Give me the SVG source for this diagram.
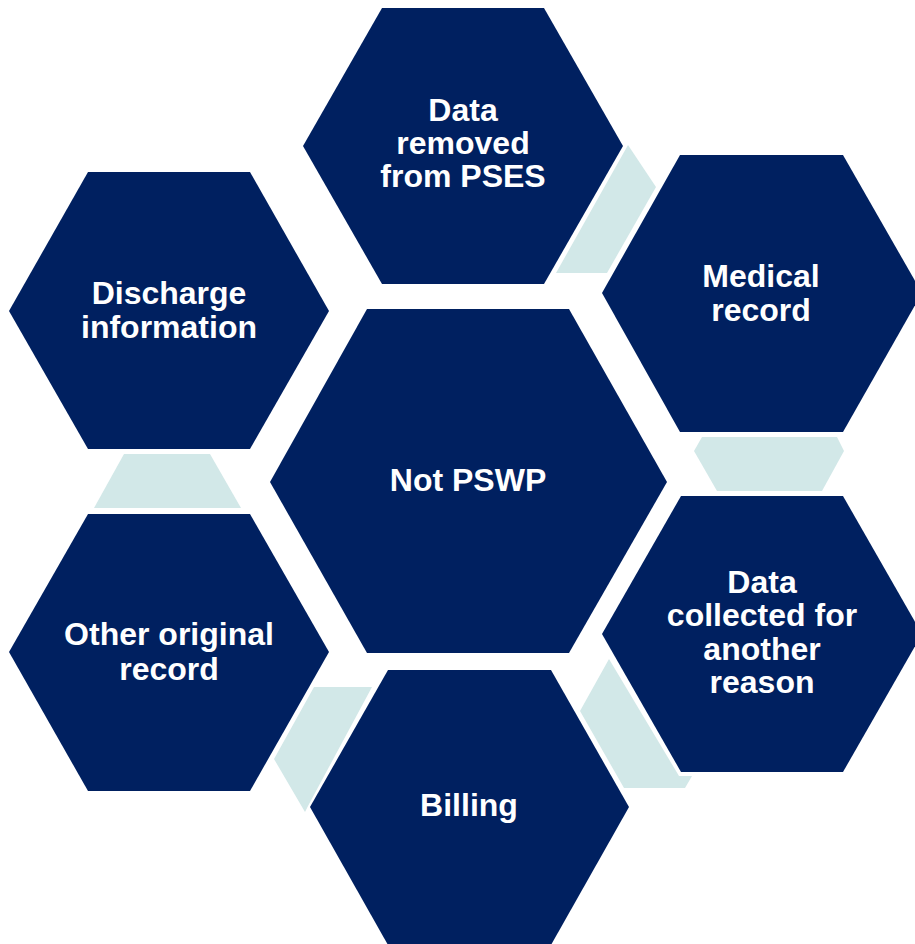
<svg xmlns="http://www.w3.org/2000/svg" width="915" height="944" viewBox="0 0 915 944">
  <style>
    .hex { fill: #002060; }
    .link { fill: #D2E8E8; }
    .lbl { font-family: "Liberation Sans", Arial, sans-serif; font-weight: bold; font-size: 32px; fill: #FFFFFF; text-anchor: middle; }
  </style>
  <rect width="915" height="944" fill="#FFFFFF"/>
  <g id="connectors">
    <polygon class="link" points="628,145 656,187 607,273 556,273"/>
    <polygon class="link" points="702,437 837,437 844,451 822,491 717,491 694,451"/>
    <polygon class="link" points="609,659 679,776 692,776 685,788 624,788 580,711"/>
    <polygon class="link" points="314,687 372,687 308,806 305,812 274,759"/>
    <polygon class="link" points="124,454 210,454 241,508 94,508"/>
  </g>
  <g id="center">
    <polygon class="hex" points="367,309 569,309 667,482 569,653 367,653 270,482"/>
    <text class="lbl" x="468" y="491">Not PSWP</text>
  </g>
  <g id="data-removed">
    <polygon class="hex" points="382,8 544,8 623,146 544,284 382,284 303,146"/>
    <text class="lbl" x="463" y="121">Data</text>
    <text class="lbl" x="463" y="154">removed</text>
    <text class="lbl" x="463" y="187">from PSES</text>
  </g>
  <g id="medical-record">
    <polygon class="hex" points="680,155 843,155 922,293 843,432 680,432 602,293"/>
    <text class="lbl" x="761" y="287">Medical</text>
    <text class="lbl" x="761" y="321">record</text>
  </g>
  <g id="data-collected">
    <polygon class="hex" points="681,496 843,496 922,634 843,772 681,772 602,634"/>
    <text class="lbl" x="762" y="593">Data</text>
    <text class="lbl" x="762" y="626">collected for</text>
    <text class="lbl" x="762" y="660">another</text>
    <text class="lbl" x="762" y="693">reason</text>
  </g>
  <g id="billing">
    <polygon class="hex" points="388,670 551,670 629,807 551,945 388,945 310,807"/>
    <text class="lbl" x="469" y="816">Billing</text>
  </g>
  <g id="other-original-record">
    <polygon class="hex" points="88,514 250,514 329,652 250,791 88,791 9,652"/>
    <text class="lbl" x="169" y="645">Other original</text>
    <text class="lbl" x="169" y="680">record</text>
  </g>
  <g id="discharge-information">
    <polygon class="hex" points="88,172 250,172 329,311 250,449 88,449 9,311"/>
    <text class="lbl" x="169" y="304">Discharge</text>
    <text class="lbl" x="169" y="338">information</text>
  </g>
</svg>
